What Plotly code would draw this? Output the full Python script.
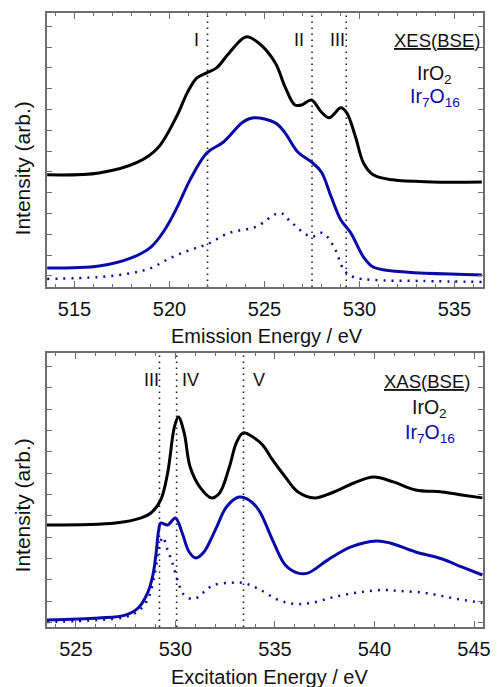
import plotly.graph_objects as go

# ---------------- XES (emission) spectra ----------------
xes_iro2_e = [513.56, 516.29, 518.35, 519.38, 520.41, 520.93, 521.44, 521.96, 522.47, 523.14,
              524.02, 524.69, 525.57, 526.08, 526.60, 526.96, 527.47, 527.99, 528.40, 529.02,
              529.33, 529.79, 530.21, 530.72, 531.75, 533.81, 536.44]
xes_iro2_i = [4.86, 4.95, 5.48, 6.15, 7.74, 8.80, 9.52, 9.76, 10.00, 10.72,
              11.49, 11.20, 10.24, 9.09, 8.22, 8.22, 8.46, 7.88, 7.60, 8.08,
              7.84, 6.68, 5.43, 4.86, 4.62, 4.52, 4.52]

xes_ir7o16_e = [513.56, 516.29, 517.99, 519.02, 519.74, 520.41, 521.08, 521.96, 522.84, 523.87,
                524.43, 525.57, 526.08, 526.75, 527.47, 527.99, 528.51, 529.02, 529.54, 530.21,
                530.72, 531.75, 536.44]
xes_ir7o16_i = [0.38, 0.48, 0.87, 1.39, 2.21, 3.32, 4.62, 5.91, 6.44, 7.40,
                7.60, 7.36, 6.88, 5.96, 5.48, 5.00, 3.80, 2.69, 2.07, 0.91,
                0.43, 0.24, 0.05]

xes_ir7o16_b_e = [513.56, 516.29, 517.99, 519.02, 520.05, 521.08, 522.01, 523.14, 524.54, 525.82,
                  526.44, 527.47, 528.04, 528.66, 529.18, 529.69, 530.72, 533.30, 536.44]
xes_ir7o16_b_i = [-0.14, -0.05, 0.14, 0.38, 0.87, 1.25, 1.54, 2.07, 2.36, 3.03,
                  2.55, 1.88, 2.07, 1.39, 0.29, -0.05, -0.19, -0.24, -0.29]

xes_marks_e = [522.0, 527.5, 529.3]
xes_marks_lbl = ["I", "II", "III"]

# ---------------- XAS (absorption) spectra ----------------
xas_iro2_e = [523.55, 526.99, 528.28, 528.77, 529.26, 529.61, 529.95, 530.15, 530.44, 530.74,
              531.23, 531.82, 532.22, 532.71, 533.06, 533.40, 533.89, 534.38, 534.88, 535.52,
              536.16, 537.00, 537.83, 538.97, 539.95, 540.94, 542.07, 543.40, 544.38, 545.42]
xas_iro2_i = [3.57, 3.66, 3.90, 4.13, 4.74, 6.01, 8.17, 8.64, 7.89, 6.29,
              5.35, 4.84, 5.07, 6.29, 7.42, 7.89, 7.70, 7.32, 6.62, 5.82,
              5.12, 4.84, 5.07, 5.54, 5.82, 5.59, 5.21, 5.12, 4.98, 4.84]

xas_ir7o16_e = [523.55, 526.16, 527.49, 528.13, 528.62, 528.87, 529.02, 529.16, 529.26, 529.61,
                530.00, 530.34, 530.69, 531.03, 531.43, 532.07, 532.56, 533.20, 533.69, 534.19,
                534.88, 535.52, 536.16, 536.65, 537.64, 538.82, 540.10, 540.79, 542.07, 543.40,
                544.38, 545.42]
xas_ir7o16_i = [-0.89, -0.80, -0.66, -0.33, 0.42, 1.22, 2.16, 3.33, 3.66, 3.57,
                3.90, 3.19, 2.30, 2.02, 2.30, 3.47, 4.41, 4.88, 4.74, 4.27,
                2.86, 1.69, 1.31, 1.31, 1.92, 2.54, 2.82, 2.72, 2.30, 1.97,
                1.60, 1.22]

xas_ir7o16_b_e = [523.55, 526.16, 527.49, 528.13, 528.62, 528.97, 529.16, 529.36, 529.61, 529.85,
                  530.10, 530.44, 530.94, 531.43, 531.92, 532.71, 533.40, 534.19, 535.17, 536.00,
                  536.84, 537.98, 539.31, 540.44, 541.28, 542.56, 543.89, 545.42]
xas_ir7o16_b_i = [-0.99, -0.89, -0.75, -0.47, 0.09, 1.31, 2.39, 3.00, 2.39, 1.78,
                  0.99, 0.28, 0.09, 0.42, 0.75, 0.85, 0.85, 0.56, 0.05, -0.14,
                  -0.09, 0.19, 0.42, 0.52, 0.47, 0.38, 0.14, -0.09]

xas_marks_e = [529.2, 530.06, 533.42]
xas_marks_lbl = ["III", "IV", "V"]

# ---------------- styling ----------------
FONT = "Liberation Sans, Arial, Helvetica, sans-serif"
BLUE = "#0a0aa8"
FRAME = "#6e6e6e"
W, H = 500, 687
L, R, T, B = 47, 9, 13, 60
PW, PH = W - L - R, H - T - B


def px(x):
    return (x - L) / PW


def py(y):
    return (H - B - y) / PH


fig = go.Figure()

DOTS = "2px,6px"
panels = [
    dict(xa="x", ya="y",
         curves=[(xes_iro2_e, xes_iro2_i, "IrO<sub>2</sub>", "#000000", "solid", 3),
                 (xes_ir7o16_e, xes_ir7o16_i, "Ir<sub>7</sub>O<sub>16</sub>", BLUE, "solid", 3),
                 (xes_ir7o16_b_e, xes_ir7o16_b_i, "Ir<sub>7</sub>O<sub>16</sub> (b)", BLUE, DOTS, 2.5)]),
    dict(xa="x2", ya="y2",
         curves=[(xas_iro2_e, xas_iro2_i, "IrO<sub>2</sub>", "#000000", "solid", 3),
                 (xas_ir7o16_e, xas_ir7o16_i, "Ir<sub>7</sub>O<sub>16</sub>", BLUE, "solid", 3),
                 (xas_ir7o16_b_e, xas_ir7o16_b_i, "Ir<sub>7</sub>O<sub>16</sub> (b)", BLUE, DOTS, 2.5)]),
]

for p in panels:
    for xs, ys, name, col, dash, w in p["curves"]:
        fig.add_trace(go.Scatter(x=xs, y=ys, mode="lines", name=name, showlegend=False,
                                 line=dict(color=col, width=w, dash=dash, shape="spline", smoothing=1.0),
                                 xaxis=p["xa"], yaxis=p["ya"]))

# vertical dotted markers
for xa, ya, marks in [("x", "y", xes_marks_e), ("x2", "y2", xas_marks_e)]:
    for e in marks:
        fig.add_shape(type="line", xref=xa, yref=f"{ya} domain", x0=e, x1=e, y0=0, y1=1,
                      line=dict(color="#222222", width=1.6, dash="1.6px,4.4px"), layer="below")

axis_common = dict(showline=True, linecolor=FRAME, linewidth=1.5, mirror="allticks",
                   ticks="inside", tickcolor=FRAME, tickwidth=1.2, showgrid=False, zeroline=False,
                   tickfont=dict(family=FONT, size=20, color="#111111"))

top_dom = [py(287), 1.0]
bot_dom = [0.0, py(353)]

fig.update_layout(
    width=W, height=H, margin=dict(l=L, r=R, t=T, b=B),
    paper_bgcolor="white", plot_bgcolor="white", showlegend=False,
    xaxis=dict(range=[513.55, 536.5], domain=[0, 1], anchor="y", tick0=515, dtick=5, ticklen=6,
               minor=dict(dtick=1, ticklen=3.5, ticks="inside", tickcolor=FRAME, tickwidth=1.2),
               ticklabelstandoff=3, **axis_common),
    yaxis=dict(range=[-0.53, 12.64], domain=top_dom, anchor="x", tick0=0, dtick=1, ticklen=5,
               showticklabels=False, **axis_common),
    xaxis2=dict(range=[523.55, 545.45], domain=[0, 1], anchor="y2", tick0=525, dtick=5, ticklen=6,
                minor=dict(dtick=1, ticklen=3.5, ticks="inside", tickcolor=FRAME, tickwidth=1.2),
                ticklabelstandoff=3, **axis_common),
    yaxis2=dict(range=[-1.22, 11.64], domain=bot_dom, anchor="x2", tick0=0, dtick=1, ticklen=5,
                showticklabels=False, **axis_common),
)


def note(text, x, y, size=18, color="#111111", angle=0, anchor="center"):
    fig.add_annotation(text=text, xref="paper", yref="paper", x=px(x), y=py(y),
                       xanchor=anchor, yanchor="middle", showarrow=False, textangle=angle,
                       font=dict(family=FONT, size=size, color=color))


# region labels
for lbl, x in zip(xes_marks_lbl, [199, 304, 343]):
    note(lbl, x, 40)
for lbl, x in zip(xas_marks_lbl, [153, 193, 263]):
    note(lbl, x, 380)

# sample keys
note("<u>XES</u>(<u>BSE</u>)", 490, 40, size=18.5, anchor="right")
note("IrO<sub>2</sub>", 442, 74, size=19.5)
note("Ir<sub>7</sub>O<sub>16</sub>", 442, 98, size=19.5, color=BLUE)
note("<u>XAS</u>(<u>BSE</u>)", 480, 381, size=18.5, anchor="right")
note("IrO<sub>2</sub>", 437, 408, size=19.5)
note("Ir<sub>7</sub>O<sub>16</sub>", 437, 433, size=19.5, color=BLUE)

# axis titles
note("Emission Energy / eV", 271, 336, size=20)
note("Excitation Energy / eV", 274, 677, size=20)
note("Intensity (arb.)", 22, 168, size=21, angle=-90)
note("Intensity (arb.)", 22, 505, size=21, angle=-90)

fig.write_html("out.html")
